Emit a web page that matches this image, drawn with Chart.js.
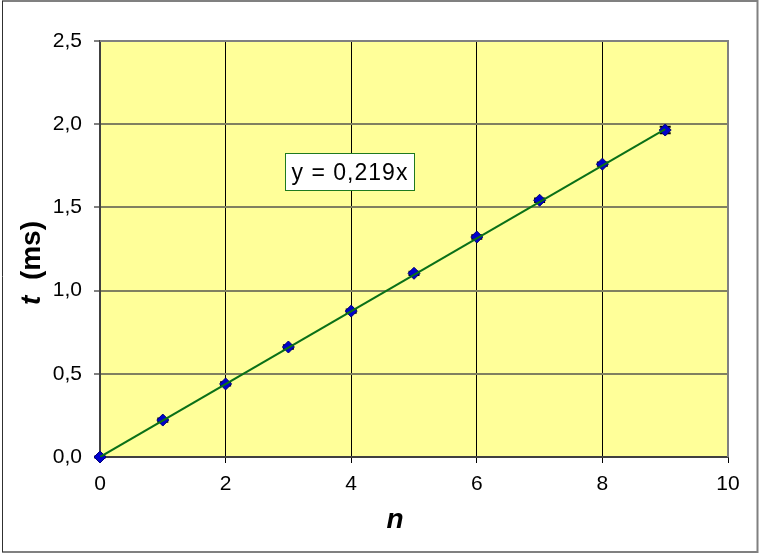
<!DOCTYPE html>
<html><head><meta charset="utf-8">
<script src="https://cdn.jsdelivr.net/npm/chart.js@4/dist/chart.umd.min.js"></script>
<style>html,body{margin:0;padding:0;background:#fff}#w{width:759px;height:554px;position:relative}</style>
</head><body><div id="w"><canvas id="c" width="759" height="554"></canvas></div>
<script>
const nValues = [0, 1, 2, 3, 4, 5, 6, 7, 8, 9];
const tValues = [0, 0.222, 0.439, 0.661, 0.877, 1.104, 1.322, 1.543, 1.760, 1.965];
const tErrors = [0.005, 0.01, 0.01, 0.01, 0.01, 0.01, 0.01, 0.01, 0.01, 0.02];
const trendX = [0, 9];
const trendY = [0, 1.971];
const trendLabel = 'y = 0,219x';
const xTitle = 'n';
const yTitleVar = 't';
const yTitleUnit = '(ms)';

const FONT = '"Liberation Sans", Arial, Helvetica, sans-serif';

const bgPlugin = {
  id: 'bg',
  beforeDraw(chart) {
    const {ctx, chartArea: a} = chart;
    ctx.save();
    ctx.fillStyle = '#ffffff';
    ctx.fillRect(0, 0, chart.width, chart.height);
    ctx.fillStyle = '#FFFF99';
    ctx.fillRect(a.left, a.top, a.right - a.left, a.bottom - a.top);
    ctx.restore();
  }
};

const errPlugin = {
  id: 'err',
  beforeDatasetsDraw(chart) {
    const {ctx, scales: {x, y}} = chart;
    ctx.save();
    ctx.strokeStyle = '#000';
    ctx.lineWidth = 2;
    nValues.forEach((n, i) => {
      const px = x.getPixelForValue(n);
      const y1 = y.getPixelForValue(tValues[i] + tErrors[i]);
      const y2 = y.getPixelForValue(tValues[i] - tErrors[i]);
      ctx.beginPath();
      ctx.moveTo(px, y1); ctx.lineTo(px, y2);
      ctx.moveTo(px - 5.5, y1); ctx.lineTo(px + 5.5, y1);
      ctx.moveTo(px - 5.5, y2); ctx.lineTo(px + 5.5, y2);
      ctx.stroke();
    });
    ctx.restore();
  }
};

const decoPlugin = {
  id: 'deco',
  afterDraw(chart) {
    const {ctx, chartArea: a} = chart;
    ctx.save();
    ctx.strokeStyle = '#808080';
    ctx.lineWidth = 2;
    ctx.beginPath();
    ctx.moveTo(a.left, a.top); ctx.lineTo(a.right, a.top); ctx.lineTo(a.right, a.bottom);
    ctx.stroke();
    const bx = 285, by = 153, bw = 129, bh = 37;
    ctx.fillStyle = '#ffffff';
    ctx.fillRect(bx, by, bw, bh);
    ctx.strokeStyle = '#1f7a1f';
    ctx.lineWidth = 1;
    ctx.strokeRect(bx + 0.5, by + 0.5, bw, bh);
    ctx.fillStyle = '#000';
    ctx.font = '23px ' + FONT;
    ctx.textAlign = 'center';
    ctx.textBaseline = 'alphabetic';
    try { ctx.letterSpacing = '1px'; } catch (e) {}
    ctx.fillText(trendLabel, bx + bw / 2 + 0.5, by + 27);
    try { ctx.letterSpacing = '0px'; } catch (e) {}
    ctx.font = 'italic bold 28px ' + FONT;
    ctx.textAlign = 'center';
    ctx.fillText(xTitle, 395, 528);
    ctx.translate(40, 263);
    ctx.rotate(-Math.PI / 2);
    ctx.font = 'italic bold 28px ' + FONT;
    const w1 = ctx.measureText(yTitleVar + '  ').width;
    ctx.font = 'bold 28px ' + FONT;
    const w2 = ctx.measureText(yTitleUnit).width;
    const start = -(w1 + w2) / 2;
    ctx.textAlign = 'left';
    ctx.font = 'italic bold 28px ' + FONT;
    ctx.fillText(yTitleVar, start, 0);
    ctx.font = 'bold 28px ' + FONT;
    ctx.fillText(yTitleUnit, start + w1, 0);
    ctx.setTransform(1, 0, 0, 1, 0, 0);
    ctx.strokeStyle = '#808080';
    ctx.lineWidth = 2;
    ctx.beginPath();
    ctx.moveTo(2, 1); ctx.lineTo(757.5, 1); ctx.lineTo(757.5, 552); ctx.lineTo(2, 552);
    ctx.stroke();
    ctx.strokeStyle = '#303030';
    ctx.lineWidth = 1;
    ctx.beginPath();
    ctx.moveTo(2.5, 1); ctx.lineTo(2.5, 552);
    ctx.stroke();
    ctx.restore();
  }
};

new Chart(document.getElementById('c'), {
  type: 'scatter',
  data: {
    datasets: [
      {
        type: 'line',
        data: trendX.map((v, i) => ({x: v, y: trendY[i]})),
        borderColor: '#0a7018',
        borderWidth: 2,
        pointRadius: 0,
        fill: false,
        order: 0
      },
      {
        data: nValues.map((v, i) => ({x: v, y: tValues[i]})),
        pointStyle: 'rectRot',
        pointRadius: 6,
        backgroundColor: '#0000CC',
        borderColor: '#00007a',
        borderWidth: 1,
        clip: false,
        order: 1
      }
    ]
  },
  options: {
    responsive: false,
    animation: false,
    events: [],
    layout: {padding: {left: 0, top: 41, right: 31, bottom: 0}},
    plugins: {legend: {display: false}, tooltip: {enabled: false}},
    scales: {
      x: {
        type: 'linear', min: 0, max: 10,
        afterFit(s) { s.height = 97; },
        grid: {color: '#000', lineWidth: 1, tickLength: 6, tickColor: '#000'},
        border: {display: true, color: '#404040', width: 2},
        ticks: {stepSize: 2, padding: 9, color: '#000', font: {family: FONT, size: 21},
          callback: v => String(v)}
      },
      y: {
        type: 'linear', min: 0, max: 2.5,
        afterFit(s) { s.width = 100; },
        grid: {color: '#808060', lineWidth: 2, tickLength: 6, tickColor: '#808080'},
        border: {display: true, color: '#404040', width: 2},
        ticks: {stepSize: 0.5, padding: 12, color: '#000', font: {family: FONT, size: 21},
          callback: v => v.toFixed(1).replace('.', ',')}
      }
    }
  },
  plugins: [bgPlugin, errPlugin, decoPlugin]
});
</script>
</body></html>
